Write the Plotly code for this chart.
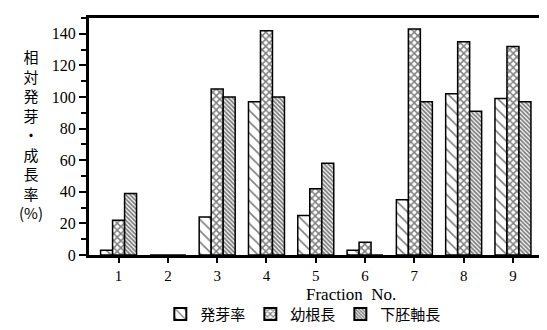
import plotly.graph_objects as go

fractions = [1, 2, 3, 4, 5, 6, 7, 8, 9]
germination = [3, 0, 24, 97, 25, 3, 35, 102, 99]
radicle = [22, 0, 105, 142, 42, 8, 143, 135, 132]
hypocotyl = [39, 0, 100, 100, 58, 0, 97, 91, 97]
names = ["発芽率", "幼根長", "下胚軸長"]

serif = "Liberation Serif"
cjk = "Noto Sans CJK JP"

fig = go.Figure()
specs = [
    (germination, names[0], dict(shape="\\", size=8, solidity=0.2)),
    (radicle, names[1], dict(shape="x", size=5, solidity=0.5)),
    (hypocotyl, names[2], dict(shape="\\", size=3, solidity=0.6)),
]
for vals, nm, pat in specs:
    fig.add_trace(go.Bar(
        x=fractions, y=vals, name=nm,
        marker=dict(color="white", line=dict(color="black", width=1.5),
                    pattern=dict(fgcolor="black", bgcolor="white", **pat)),
    ))

fig.update_layout(
    width=547, height=330,
    margin=dict(l=81, r=7, t=10, b=74),
    paper_bgcolor="white", plot_bgcolor="white",
    barmode="group", bargap=0.27, bargroupgap=0,
    showlegend=True,
    legend=dict(orientation="h", x=0.47, xanchor="center", y=-0.25, yanchor="middle",
                font=dict(family=cjk, size=15, color="black"),
                traceorder="normal", itemsizing="constant", itemwidth=30),
    font=dict(family=serif, color="black"),
)
fig.update_xaxes(
    range=[0.4, 9.65], tickmode="array", tickvals=fractions,
    ticktext=[str(f) for f in fractions],
    ticks="outside", ticklen=5, tickwidth=1.5, tickcolor="black",
    tickfont=dict(family=serif, size=15, color="black"),
    showline=True, linewidth=3, linecolor="black", mirror=True,
    showgrid=False, zeroline=False,
)
fig.update_yaxes(
    range=[0, 150], tickmode="array", tickvals=[0, 20, 40, 60, 80, 100, 120, 140],
    ticks="outside", ticklen=7, tickwidth=1.5, tickcolor="black",
    tickfont=dict(family=serif, size=16, color="black"),
    minor=dict(tickvals=[10, 30, 50, 70, 90, 110, 130, 150], ticks="outside", ticklen=5, tickwidth=1.5, tickcolor="black"),
    showline=True, linewidth=3, linecolor="black", mirror=True,
    showgrid=False, zeroline=False,
)
fig.add_annotation(
    xref="paper", yref="paper", x=-0.128, y=0.51, xanchor="center", yanchor="middle",
    text="相<br>対<br>発<br>芽<br>・<br>成<br>長<br>率<br>(%)", showarrow=False,
    font=dict(family=cjk, size=15, color="black"), align="center",
)
fig.add_annotation(
    xref="paper", yref="paper", x=0.575, y=-0.168, xanchor="center", yanchor="middle",
    text="Fraction  No.", showarrow=False,
    font=dict(family=serif, size=17, color="black"),
)
fig.write_html("out.html")
